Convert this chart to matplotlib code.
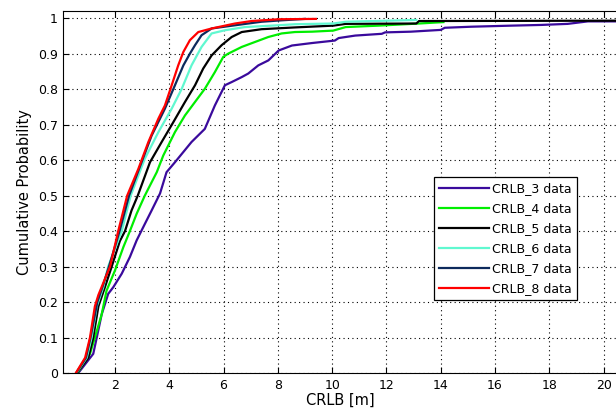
import matplotlib
matplotlib.use('Agg')
import matplotlib.pyplot as plt
import numpy as np

plt.rcParams['font.family'] = ['DejaVu Sans']

crlb3_x = [0.65, 1.2, 1.33, 1.51, 1.75, 1.94, 2.25, 2.55, 2.80, 3.10, 3.35, 3.66, 3.90, 4.21, 4.82,
           5.31, 5.68, 6.05, 6.30, 6.67, 6.91, 7.28, 7.65, 8.03, 8.52, 9.26, 10.1, 10.24, 10.85,
           11.83, 11.95, 12.9, 14.0, 14.15, 15.13, 16.6, 17.7, 18.68, 19.42, 20.5]
crlb3_y = [0.0, 0.054, 0.1, 0.165, 0.223, 0.242, 0.28, 0.327, 0.374, 0.42, 0.458, 0.506, 0.566,
           0.594, 0.651, 0.688, 0.754, 0.811, 0.820, 0.834, 0.844, 0.867, 0.881, 0.909, 0.923, 0.930,
           0.937, 0.944, 0.951, 0.956, 0.960, 0.962, 0.967, 0.973, 0.976, 0.979, 0.981, 0.984, 0.991,
           0.991]

crlb4_x = [0.62, 1.08, 1.26, 1.51, 1.69, 2.0, 2.31, 2.55, 2.80, 3.10, 3.54, 3.78, 4.21, 4.58, 4.95,
           5.31, 5.68, 5.99, 6.17, 6.67, 7.16, 7.65, 8.14, 8.63, 9.26, 10.04, 10.5, 11.7, 13.2, 14.1]
crlb4_y = [0.0, 0.054, 0.1, 0.165, 0.232, 0.289, 0.355, 0.4, 0.449, 0.5, 0.566, 0.613, 0.679,
           0.726, 0.764, 0.801, 0.848, 0.891, 0.900, 0.919, 0.933, 0.947, 0.957, 0.961, 0.962,
           0.965, 0.975, 0.979, 0.985, 0.989]

crlb5_x = [0.6, 1.02, 1.2, 1.39, 1.63, 1.88, 2.18, 2.37, 2.61, 2.84, 3.29, 3.72, 4.15, 4.58, 4.95,
           5.25, 5.56, 5.93, 6.30, 6.67, 7.40, 8.63, 10.04, 10.5, 13.1, 13.2, 20.5]
crlb5_y = [0.0, 0.043, 0.1, 0.188, 0.242, 0.3, 0.372, 0.4, 0.458, 0.5, 0.594, 0.651, 0.707, 0.764,
           0.811, 0.858, 0.895, 0.924, 0.947, 0.961, 0.969, 0.974, 0.979, 0.984, 0.985, 0.992, 0.993]

crlb6_x = [0.58, 0.96, 1.14, 1.33, 1.57, 1.75, 2.25, 2.58, 3.10, 3.60, 4.09, 4.46, 4.82, 5.19, 5.56,
           6.05, 6.79, 8.01, 8.63, 10.04, 10.5, 13.1]
crlb6_y = [0.0, 0.043, 0.1, 0.188, 0.242, 0.3, 0.4, 0.5, 0.604, 0.679, 0.745, 0.801, 0.867, 0.919,
           0.957, 0.966, 0.975, 0.980, 0.983, 0.985, 0.990, 0.995]

crlb7_x = [0.57, 0.93, 1.1, 1.35, 1.55, 1.78, 2.17, 2.52, 2.98, 3.35, 3.84, 4.21, 4.52, 4.76, 4.95,
           5.19, 5.56, 6.42, 7.40, 8.14, 9.0]
crlb7_y = [0.0, 0.043, 0.1, 0.2, 0.245, 0.3, 0.4, 0.5, 0.594, 0.669, 0.745, 0.811, 0.867, 0.900,
           0.924, 0.952, 0.971, 0.980, 0.990, 0.994, 0.998]

crlb8_x = [0.56, 0.90, 1.08, 1.26, 1.39, 1.63, 1.82, 2.12, 2.45, 2.86, 3.23, 3.60, 3.84, 4.09, 4.33,
           4.52, 4.76, 5.07, 5.56, 6.42, 7.03, 8.03, 9.4]
crlb8_y = [0.0, 0.043, 0.1, 0.188, 0.22, 0.265, 0.3, 0.4, 0.5, 0.575, 0.651, 0.717, 0.754, 0.811,
           0.867, 0.905, 0.938, 0.961, 0.971, 0.985, 0.992, 0.997, 0.998]

labels = ['CRLB_3 data', 'CRLB_4 data', 'CRLB_5 data', 'CRLB_6 data', 'CRLB_7 data', 'CRLB_8 data']
colors = ['#3a0a9c', '#00ee00', '#000000', '#60f8d0', '#0c2a5c', '#ff0000']
curves = [(crlb3_x, crlb3_y), (crlb4_x, crlb4_y), (crlb5_x, crlb5_y),
          (crlb6_x, crlb6_y), (crlb7_x, crlb7_y), (crlb8_x, crlb8_y)]

fig = plt.figure(figsize=(6.16, 4.11), dpi=100)
ax = fig.add_axes([0.1029, 0.0925, 0.899, 0.8805])

for (xs, ys), c, lab in zip(curves, colors, labels):
    ax.plot(xs, ys, color=c, lw=1.6, label=lab)

ax.set_xlim(0.1, 20.5)
ax.set_ylim(0, 1.02)
ax.set_xticks(np.arange(2, 21, 2))
ax.set_yticks(np.arange(0, 1.01, 0.1))
ax.set_yticklabels(['0', '0.1', '0.2', '0.3', '0.4', '0.5', '0.6', '0.7', '0.8', '0.9', '1'])
ax.tick_params(direction='in', top=True, right=False, labelsize=9, length=4, pad=4)
ax.spines['right'].set_visible(False)
ax.grid(True, color='black', linestyle=(0, (1, 3)), linewidth=0.8)
ax.set_axisbelow(True)

ax.set_xlabel('CRLB [m]', fontsize=10.5, labelpad=1)
ax.set_ylabel('Cumulative Probability', fontsize=10.5, labelpad=4)

leg = ax.legend(loc='upper right', bbox_to_anchor=(0.937, 0.569), bbox_transform=fig.transFigure,
                fontsize=9, fancybox=False, framealpha=1, edgecolor='black', borderpad=0.4,
                labelspacing=0.56, handlelength=4.0, handletextpad=0.25, borderaxespad=0)
leg.get_frame().set_linewidth(0.9)

fig.savefig('out.png', dpi=100)
